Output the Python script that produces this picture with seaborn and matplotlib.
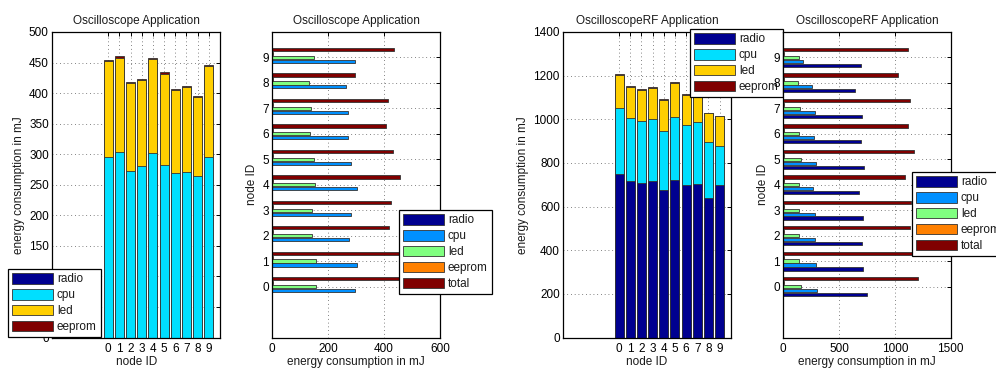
import matplotlib
matplotlib.use("Agg")
import matplotlib.pyplot as plt
import numpy as np
import pandas as pd
import seaborn as sns
from matplotlib.patches import Patch

# ---- data (energy in mJ per node) ----
nodes = list(range(10))
parts4 = ["radio", "cpu", "led", "eeprom"]
parts5 = ["radio", "cpu", "led", "eeprom", "total"]

osc_radio = [0, 0, 0, 0, 0, 0, 0, 0, 0, 0]
osc_cpu = [296, 303, 273, 280, 302, 283, 270, 271, 264, 296]
osc_led = [156, 155, 143, 141, 153, 149, 135, 139, 130, 148]
osc_eeprom = [2, 2, 2, 2, 2, 2, 2, 2, 2, 2]
osc_total = [453, 458, 419, 424, 456, 431, 406, 413, 296, 435]

rf_radio = [751, 718, 709, 717, 677, 722, 698, 704, 641, 699]
rf_cpu = [299, 289, 282, 286, 270, 289, 276, 284, 257, 177]
rf_led = [155, 142, 141, 141, 143, 156, 139, 148, 129, 137]
rf_eeprom = [3, 3, 5, 3, 3, 3, 3, 3, 3, 3]
rf_total = [1204, 1150, 1133, 1145, 1090, 1168, 1115, 1133, 1025, 1115]

colors4 = ["#000090", "#00DFFF", "#FFCF00", "#800000"]
colors5 = ["#000090", "#0090FF", "#80FF80", "#FF8000", "#800000"]

FS = 8.5

sns.set_style("white")
plt.rcParams.update({
    "font.family": ["Liberation Sans", "DejaVu Sans"],
    "font.size": FS,
    "axes.linewidth": 0.9,
    "axes.edgecolor": "black",
    "xtick.color": "black",
    "ytick.color": "black",
    "text.color": "#1a1a1a",
    "axes.labelcolor": "#1a1a1a",
})

W, H = 996, 369
fig = plt.figure(figsize=(W / 100, H / 100), dpi=100)


def ax_at(left, right, top=32, bottom=337.5):
    return fig.add_axes([left / W, 1 - bottom / H, (right - left) / W, (bottom - top) / H])


def style_axes(ax):
    ax.set_axisbelow(True)
    ax.grid(True, linestyle=(0, (1, 3.5)), color="0.35", linewidth=0.6)
    ax.tick_params(direction="in", length=3, width=0.7, top=True, right=True,
                   labelsize=FS)
    ax.tick_params(axis="x", pad=4)
    ax.tick_params(axis="y", pad=2.5)
    for s in ax.spines.values():
        s.set_visible(True)
        s.set_color("black")
        s.set_linewidth(0.9)


def make_legend(ax, labels, colors, x, y):
    handles = [Patch(facecolor=c, edgecolor="#333333", linewidth=0.6) for c in colors]
    leg = ax.legend(handles, labels, loc="upper left",
                    bbox_to_anchor=(x / W, 1 - y / H), bbox_transform=fig.transFigure,
                    borderaxespad=0, frameon=True, fancybox=False, framealpha=1,
                    edgecolor="black", handlelength=3.5, handleheight=1.0,
                    handletextpad=0.3, labelspacing=0.3, borderpad=0.35,
                    fontsize=FS)
    leg.get_frame().set_linewidth(0.9)
    leg.set_zorder(10)
    return leg


def stacked(ax, layers, colors, title, ylim, yticks, leg_xy):
    cum = np.cumsum(np.array(layers, dtype=float), axis=0)
    # draw from the top of the stack downwards so each segment stays visible
    for i in range(len(layers) - 1, -1, -1):
        sns.barplot(x=nodes, y=cum[i], color=colors[i], width=0.8, saturation=1,
                    edgecolor="#333333", linewidth=0.6, errorbar=None, ax=ax)
    ax.set_xlim(-5, 10)
    ax.set_ylim(*ylim)
    ax.set_yticks(yticks)
    ax.set_xticks(range(10))
    ax.set_xticklabels([str(n) for n in nodes])
    ax.set_xlabel("node ID", labelpad=1)
    ax.set_ylabel("energy consumption in mJ", labelpad=3)
    ax.set_title(title, fontsize=FS, pad=6)
    style_axes(ax)
    make_legend(ax, parts4, colors, *leg_xy)


def grouped(ax, layers, colors, title, xlim, xticks, leg_xy):
    df = pd.DataFrame({
        "node": np.tile(nodes, len(parts5)),
        "energy": np.concatenate([np.asarray(v, dtype=float) for v in layers]),
        "part": np.repeat(parts5, len(nodes)),
    })
    sns.barplot(data=df, x="energy", y="node", hue="part", orient="h",
                order=nodes, hue_order=parts5, palette=colors, width=0.77,
                gap=0.17, saturation=1, edgecolor="#333333", linewidth=0.6,
                errorbar=None, legend=False, ax=ax)
    ax.set_ylim(-2, 10)
    ax.set_xlim(*xlim)
    ax.set_xticks(xticks)
    ax.set_yticks(range(10))
    ax.set_yticklabels([str(n) for n in nodes])
    ax.set_xlabel("energy consumption in mJ", labelpad=1)
    ax.set_ylabel("node ID", labelpad=3)
    ax.set_title(title, fontsize=FS, pad=6)
    style_axes(ax)
    make_legend(ax, parts5, colors, *leg_xy)


ax1 = ax_at(52.3, 220)
stacked(ax1, [osc_radio, osc_cpu, osc_led, osc_eeprom], colors4,
        "Oscilloscope Application", (0, 500), range(0, 501, 50), (8, 269))

ax2 = ax_at(272.3, 440)
grouped(ax2, [osc_radio, osc_cpu, osc_led, osc_eeprom, osc_total], colors5,
        "Oscilloscope Application", (0, 600), [0, 200, 400, 600], (399, 210))

ax3 = ax_at(563.3, 730.7)
stacked(ax3, [rf_radio, rf_cpu, rf_led, rf_eeprom], colors4,
        "OscilloscopeRF Application", (0, 1400), range(0, 1401, 200), (690, 29))

ax4 = ax_at(783.3, 950.7)
grouped(ax4, [rf_radio, rf_cpu, rf_led, rf_eeprom, rf_total], colors5,
        "OscilloscopeRF Application", (0, 1500), [0, 500, 1000, 1500], (912, 172))

fig.savefig("out.png", dpi=100)
